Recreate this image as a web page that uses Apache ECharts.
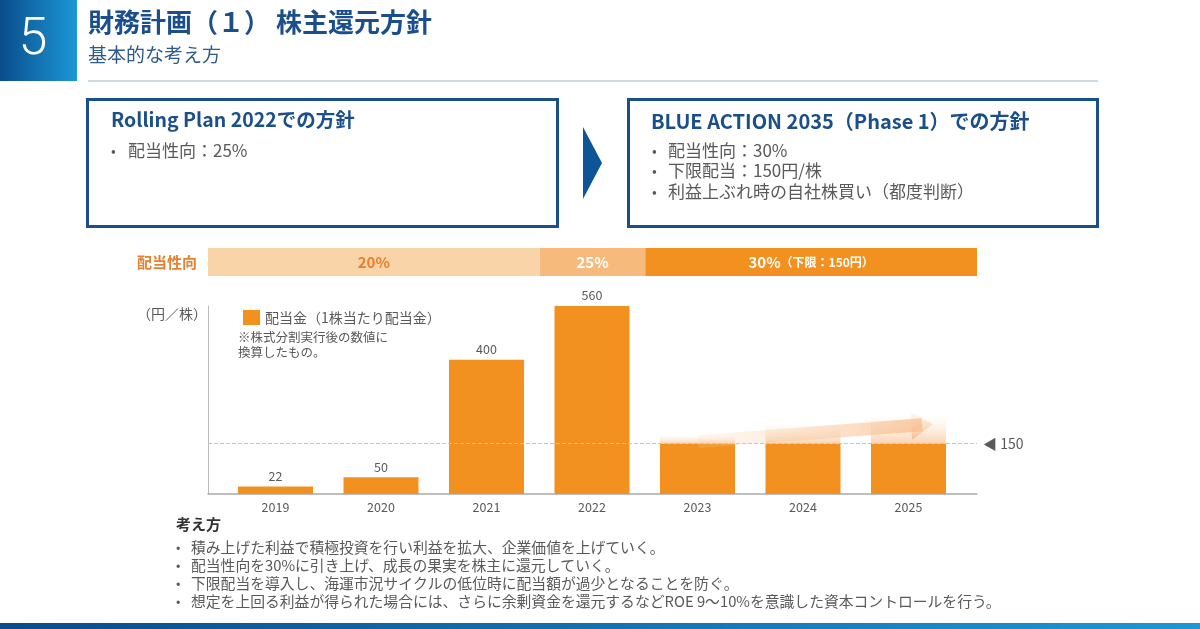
<!DOCTYPE html>
<html>
<head>
<meta charset="utf-8">
<script src="https://cdn.jsdelivr.net/npm/echarts@6/dist/echarts.min.js"></script>
<style>
  html, body { margin: 0; padding: 0; background: #fff; }
  #chart { width: 1200px; height: 629px; }
</style>
</head>
<body>
<div id="chart"></div>
<script>
// data
const years = ['2019', '2020', '2021', '2022', '2023', '2024', '2025'];
const dividends = [22, 50, 400, 560, 150, 150, 150];
const upside = [null, null, null, null, 24, 57, 83];
const actualCount = 4;          // years with a printed value
const floorDividend = 150;
const payoutLabels = ['20%', '25%', '30%'];
const payoutNotes = ['', '', '（下限：150円）'];
const payoutYears = [3, 1, 3];  // 2019-21, 2022, 2023-25
const arrowFrom = [4.0, 156];
const arrowTo = [6.12, 206];

const FONT = "'Noto Sans CJK JP', 'Noto Sans', sans-serif";
const BLUE = '#1a4f8a';
const GRAY = '#595959';
const ORANGE = '#f29120';
const axisPad = 0.64;           // frame overhang past first/last bar centre, in years

const payoutSegs = payoutYears.map((n, i) =>
  (i === 0 || i === payoutYears.length - 1) ? n - 0.5 + axisPad : n);
const payoutTotal = payoutSegs.reduce((a, b) => a + b, 0);
const payoutColors = ['#f9d4a9', '#f6ba7d', ORANGE];
const payoutText = ['#e5802f', '#fff', '#fff'];

function txt(x, y, text, size, fill, extra) {
  return {
    type: 'text', x: x, y: y, silent: true,
    style: Object.assign({
      text: text, fontSize: size, fill: fill, fontFamily: FONT,
      verticalAlign: 'middle', align: 'left'
    }, extra || {})
  };
}

const chart = echarts.init(document.getElementById('chart'));

const blueGrad = new echarts.graphic.LinearGradient(0, 0, 1, 0, [
  { offset: 0, color: '#0a4c8c' }, { offset: 1, color: '#1c98d6' }
]);

const graphics = [
  { type: 'rect', shape: { x: 0, y: 0, width: 77, height: 81 }, style: { fill: blueGrad } },
  txt(33, 41, '5', 52, '#fff', { align: 'center', fontFamily: 'Roboto', fontWeight: 300 }),
  txt(88, 22, '財務計画（１） 株主還元方針', 26, '#1b4f8c', { fontWeight: 'bold' }),
  txt(88, 55, '基本的な考え方', 19, '#2d5b8a'),
  { type: 'line', shape: { x1: 88, y1: 81, x2: 1098, y2: 81 }, style: { stroke: '#9ab6ca', lineWidth: 1 } },

  { type: 'rect', shape: { x: 87.5, y: 99.5, width: 470, height: 127 },
    style: { fill: '#fff', stroke: BLUE, lineWidth: 3 } },
  txt(111, 120, 'Rolling Plan 2022での方針', 19.5, BLUE, { fontWeight: 'bold' }),
  txt(111, 151, '•', 14, GRAY),
  txt(128, 151, '配当性向：25%', 17, GRAY),

  { type: 'polygon', shape: { points: [[583, 127], [602, 163], [583, 199]] }, style: { fill: '#0d5596' } },

  { type: 'rect', shape: { x: 628.5, y: 99.5, width: 469, height: 127 },
    style: { fill: '#fff', stroke: BLUE, lineWidth: 3 } },
  txt(651, 121, 'BLUE ACTION 2035（Phase 1）での方針', 20, BLUE, { fontWeight: 'bold' }),
  txt(652, 151, '•', 14, GRAY),
  txt(668, 151, '配当性向：30%', 17, GRAY),
  txt(652, 171, '•', 14, GRAY),
  txt(668, 171, '下限配当：150円/株', 17, GRAY),
  txt(652, 192, '•', 14, GRAY),
  txt(668, 192, '利益上ぶれ時の自社株買い（都度判断）', 17, GRAY),

  txt(197, 262, '配当性向', 15, '#e8812e', { align: 'right', fontWeight: 'bold' }),
  txt(207, 314, '（円／株）', 14, GRAY, { align: 'right' }),
  txt(238, 337, '※株式分割実行後の数値に', 12.5, GRAY),
  txt(238, 352, '換算したもの。', 12.5, GRAY),

  txt(176, 524, '考え方', 15, '#333', { fontWeight: 'bold' }),
  txt(176, 547, '•', 13, GRAY),
  txt(191, 547, '積み上げた利益で積極投資を行い利益を拡大、企業価値を上げていく。', 14.8, GRAY),
  txt(176, 565, '•', 13, GRAY),
  txt(191, 565, '配当性向を30%に引き上げ、成長の果実を株主に還元していく。', 14.8, GRAY),
  txt(176, 583, '•', 13, GRAY),
  txt(191, 583, '下限配当を導入し、海運市況サイクルの低位時に配当額が過少となることを防ぐ。', 14.8, GRAY),
  txt(176, 601, '•', 13, GRAY),
  txt(191, 601, '想定を上回る利益が得られた場合には、さらに余剰資金を還元するなどROE 9～10%を意識した資本コントロールを行う。', 14.8, GRAY),

  { type: 'rect', shape: { x: 0, y: 623, width: 1200, height: 6 }, style: { fill: blueGrad } }
];

const payoutSeries = payoutSegs.map((v, i) => ({
  type: 'bar', name: 'payout' + i, xAxisIndex: 2, yAxisIndex: 2, stack: 'payout',
  barWidth: 28, silent: true, data: [v],
  itemStyle: { color: payoutColors[i] },
  label: {
    show: true, position: 'inside',
    formatter: '{p|' + payoutLabels[i] + '}' + (payoutNotes[i] ? '{n|' + payoutNotes[i] + '}' : ''),
    rich: {
      p: { fontSize: 15, fontWeight: 'bold', color: payoutText[i], fontFamily: FONT },
      n: { fontSize: 12, fontWeight: 'bold', color: payoutText[i], fontFamily: FONT }
    }
  }
}));

const option = {
  animation: false,
  graphic: { elements: graphics },
  legend: {
    data: ['配当金（1株当たり配当金）'], left: 238, top: 305,
    icon: 'rect', itemWidth: 17, itemHeight: 15, selectedMode: false,
    textStyle: { color: GRAY, fontSize: 14, fontFamily: FONT }
  },
  grid: [
    { left: 222.75, right: 238.75, top: 306, bottom: 135 },
    { left: 208, right: 223, top: 306, bottom: 135 },
    { left: 208, right: 223, top: 248, height: 28 }
  ],
  xAxis: [
    { gridIndex: 0, type: 'category', data: years,
      axisLine: { show: false }, axisTick: { show: false },
      axisLabel: { color: GRAY, fontSize: 12.5, margin: 7, fontFamily: FONT } },
    { gridIndex: 1, type: 'value', min: -axisPad, max: years.length - 1 + axisPad,
      axisLine: { show: true, onZero: false, lineStyle: { color: '#aaa', width: 1.5 } },
      axisTick: { show: false }, axisLabel: { show: false }, splitLine: { show: false } },
    { gridIndex: 2, type: 'value', min: 0, max: payoutTotal, show: false }
  ],
  yAxis: [
    { gridIndex: 0, type: 'value', min: 0, max: Math.max(...dividends), show: false },
    { gridIndex: 1, type: 'value', min: 0, max: Math.max(...dividends),
      axisLine: { show: true, onZero: false, lineStyle: { color: '#bbb', width: 1 } },
      axisTick: { show: false }, axisLabel: { show: false }, splitLine: { show: false } },
    { gridIndex: 2, type: 'category', data: [''], show: false }
  ],
  series: [
    {
      type: 'bar', name: '配当金（1株当たり配当金）', xAxisIndex: 0, yAxisIndex: 0,
      stack: 'div', barWidth: 75, data: dividends, silent: true,
      itemStyle: { color: ORANGE },
      label: {
        show: true, position: 'top', distance: 4, color: GRAY, fontSize: 12.5, fontFamily: FONT,
        formatter: p => p.dataIndex < actualCount ? p.value : ''
      }
    },
    {
      type: 'bar', name: 'upside', xAxisIndex: 0, yAxisIndex: 0,
      stack: 'div', barWidth: 75, data: upside, silent: true,
      itemStyle: {
        color: new echarts.graphic.LinearGradient(0, 0, 0, 1, [
          { offset: 0, color: 'rgba(255,238,222,0.1)' },
          { offset: 1, color: 'rgba(248,196,150,0.75)' }
        ])
      }
    },
    {
      type: 'line', name: 'frame', xAxisIndex: 1, yAxisIndex: 1, data: [], silent: true,
      markLine: {
        silent: true, symbol: 'none', animation: false,
        data: [
          {
            yAxis: floorDividend,
            lineStyle: { type: 'dashed', color: '#c4c4c4', width: 1 },
            label: { show: true, position: 'end', distance: 6, formatter: '◀ ' + floorDividend,
              color: GRAY, fontSize: 14, fontFamily: FONT }
          },
          [
            { coord: arrowFrom, symbol: 'none',
              lineStyle: {
                width: 13, type: 'solid',
                color: new echarts.graphic.LinearGradient(0, 0, 1, 0, [
                  { offset: 0, color: 'rgba(250,214,180,0.15)' },
                  { offset: 1, color: 'rgba(246,176,118,0.65)' }
                ])
              },
              label: { show: false } },
            { coord: arrowTo, symbol: 'triangle', symbolSize: [28, 22] }
          ]
        ]
      }
    }
  ].concat(payoutSeries)
};

chart.setOption(option);
</script>
</body>
</html>
